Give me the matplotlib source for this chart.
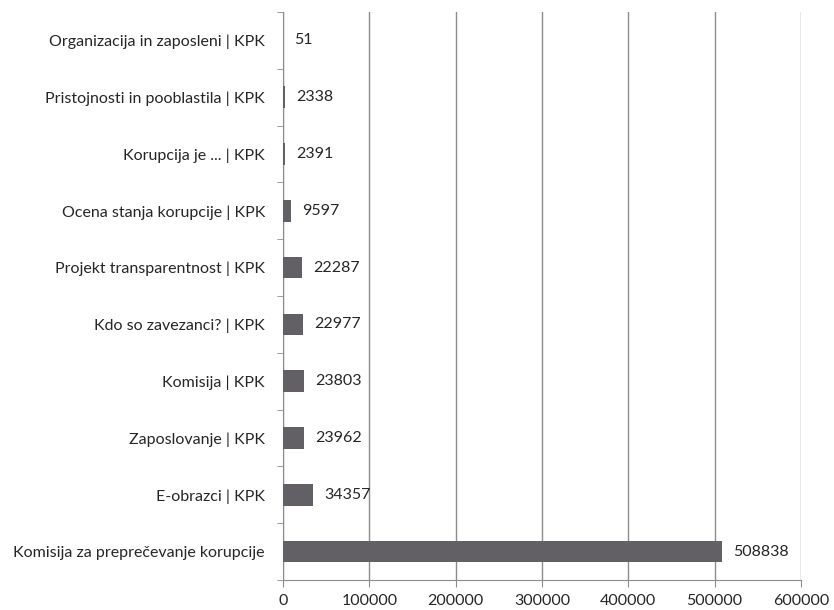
import matplotlib.pyplot as plt

categories = [
    "Komisija za preprečevanje korupcije",
    "E-obrazci | KPK",
    "Zaposlovanje | KPK",
    "Komisija | KPK",
    "Kdo so zavezanci? | KPK",
    "Projekt transparentnost | KPK",
    "Ocena stanja korupcije | KPK",
    "Korupcija je ... | KPK",
    "Pristojnosti in pooblastila | KPK",
    "Organizacija in zaposleni | KPK",
]
values = [508838, 34357, 23962, 23803, 22977, 22287, 9597, 2391, 2338, 51]
xticks = [0, 100000, 200000, 300000, 400000, 500000, 600000]

plt.rcParams["font.family"] = ["Lato", "DejaVu Sans"]
text_color = "#262626"
axis_color = "#8c8c8c"

fig = plt.figure(figsize=(8.34, 6.1), dpi=100)
ax = fig.add_axes([283 / 834, 30 / 610, 518 / 834, 568 / 610])

pos = list(range(len(categories)))
ax.barh(pos, values, height=0.38, color="#626064", zorder=3)
for p, v in zip(pos, values):
    ax.text(v + 13000, p, str(v), va="center", ha="left",
            fontsize=11.5, color=text_color, zorder=4)

ax.set_xlim(0, 600000)
ax.set_ylim(-0.5, len(categories) - 0.5)
ax.set_xticks(xticks)
ax.set_xticklabels([str(t) for t in xticks])
ax.set_yticks(pos)
ax.set_yticklabels(categories)
ax.set_yticks([p - 0.5 for p in pos] + [len(categories) - 0.5], minor=True)

ax.grid(axis="x", color=axis_color, linewidth=1, zorder=0)
for s in ["top", "right"]:
    ax.spines[s].set_visible(False)
for s in ["left", "bottom"]:
    ax.spines[s].set_color(axis_color)

ax.tick_params(axis="y", which="major", length=0, pad=13,
               labelsize=11.5, labelcolor=text_color)
ax.tick_params(axis="y", which="minor", length=4, color=axis_color)
ax.tick_params(axis="x", length=5, color=axis_color, pad=5,
               labelsize=11.5, labelcolor=text_color)

plt.savefig("out.png", dpi=100)
